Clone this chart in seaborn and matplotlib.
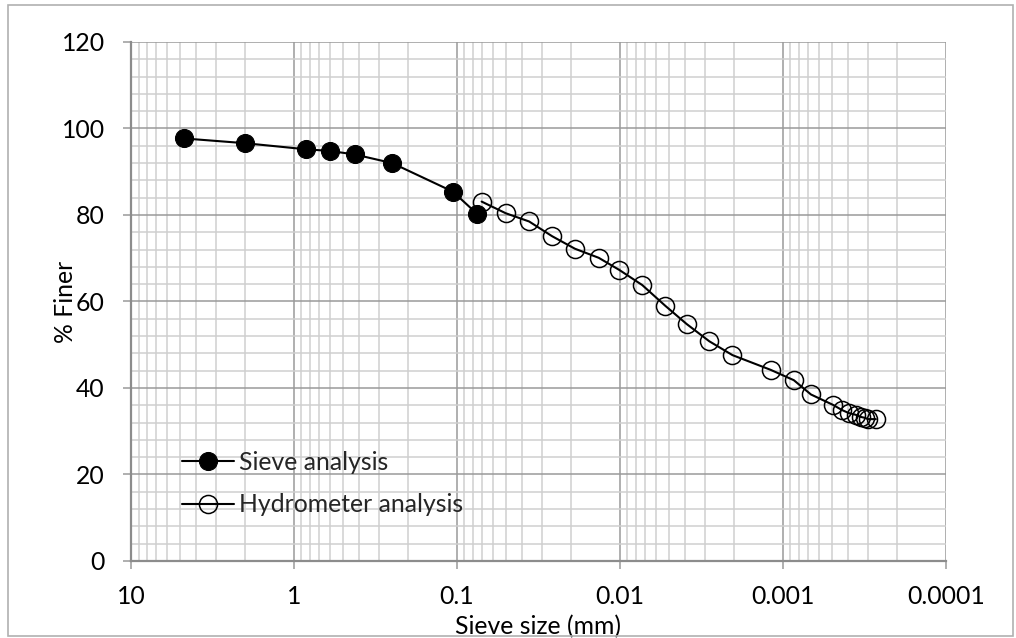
import numpy as np
import pandas as pd
import matplotlib
matplotlib.use("Agg")
import matplotlib.pyplot as plt
import seaborn as sns
from matplotlib.ticker import LogLocator, FixedLocator, MultipleLocator, FuncFormatter
from matplotlib.patches import Rectangle

# ---- data ----
sieve_size = [4.75, 2.0, 0.85, 0.60, 0.425, 0.25, 0.106, 0.075]
sieve_finer = [97.7, 96.6, 95.2, 94.8, 94.0, 92.0, 85.4, 80.2]

hydro_size = [0.0706, 0.0502, 0.0361, 0.0261, 0.0189, 0.0135, 0.0101, 0.0073,
              0.00527, 0.0039, 0.00283, 0.00204, 0.00119, 0.000857, 0.000673,
              0.000493, 0.000434, 0.000394, 0.000357, 0.000332, 0.000314,
              0.000301, 0.000269]
hydro_finer = [83.1, 80.4, 78.5, 75.1, 72.2, 70.1, 67.3, 63.8, 59.0, 54.8, 50.8,
               47.6, 44.2, 41.8, 38.5, 36.1, 34.9, 34.2, 33.8, 33.3, 33.1, 32.8, 32.8]

x_ticks = [10, 1, 0.1, 0.01, 0.001, 0.0001]
x_tick_labels = ["10", "1", "0.1", "0.01", "0.001", "0.0001"]
y_ticks = [0, 20, 40, 60, 80, 100, 120]

sns.set_theme(style="white")
plt.rcParams['font.family'] = ['Lato', 'DejaVu Sans']

FS = 17.8

fig = plt.figure(figsize=(10.16, 6.38), dpi=100)
ax = fig.add_axes([0.129, 0.1207, 0.802, 0.8135])

df_s = pd.DataFrame({"size": sieve_size, "finer": sieve_finer})
df_h = pd.DataFrame({"size": hydro_size, "finer": hydro_finer})

sns.lineplot(data=df_s, x="size", y="finer", ax=ax, sort=False, color="black",
             lw=1.5, marker="o", markersize=13, markerfacecolor="black",
             markeredgecolor="black", label="Sieve analysis", zorder=5)
sns.lineplot(data=df_h, x="size", y="finer", ax=ax, sort=False, color="black",
             lw=1.5, marker="o", markersize=13, markerfacecolor="none",
             markeredgecolor="black", markeredgewidth=1.1,
             label="Hydrometer analysis", zorder=5)

ax.set_xscale("log")
ax.set_xlim(10, 0.0001)
ax.set_ylim(0, 120)

ax.xaxis.set_major_locator(FixedLocator(x_ticks))
ax.xaxis.set_major_formatter(FuncFormatter(lambda v, p: x_tick_labels[x_ticks.index(v)] if v in x_ticks else ""))
ax.xaxis.set_minor_locator(LogLocator(base=10, subs=np.arange(2, 10), numticks=100))
ax.xaxis.set_minor_formatter(FuncFormatter(lambda v, p: ""))
ax.yaxis.set_major_locator(FixedLocator(y_ticks))
ax.yaxis.set_minor_locator(MultipleLocator(4))

ax.grid(True, which="major", color="#9a9a9a", lw=1.1, zorder=1)
ax.grid(True, which="minor", color="#cfcfcf", lw=1.1, zorder=0)
ax.set_axisbelow(True)

for s in ["top", "right"]:
    ax.spines[s].set_visible(False)
for s in ["left", "bottom"]:
    ax.spines[s].set_color("#8c8c8c")
    ax.spines[s].set_linewidth(1.6)

ax.tick_params(axis="both", which="major", direction="out", length=6, width=1.1,
               color="#9a9a9a", labelsize=FS, labelcolor="black", pad=13)
ax.tick_params(axis="x", which="major", pad=11, bottom=True)
ax.tick_params(axis="y", which="major", left=True)
ax.tick_params(axis="both", which="minor", length=0)

ax.set_xlabel("Sieve size (mm)", fontsize=FS, color="black", labelpad=5)
ax.set_ylabel("% Finer", fontsize=FS, color="black", labelpad=-11)

leg = ax.legend(loc="center left", bbox_to_anchor=(0.05, 0.1495), frameon=False,
                fontsize=FS, handlelength=2.1, handletextpad=0.2,
                labelspacing=0.8, borderaxespad=0)

fig.patches.append(Rectangle((8 / 1016, 2 / 638), 1005 / 1016, 631 / 638,
                             transform=fig.transFigure, fill=False,
                             edgecolor="#b0b0b0", lw=1.2))

fig.savefig("out.png", dpi=100, facecolor="white")
